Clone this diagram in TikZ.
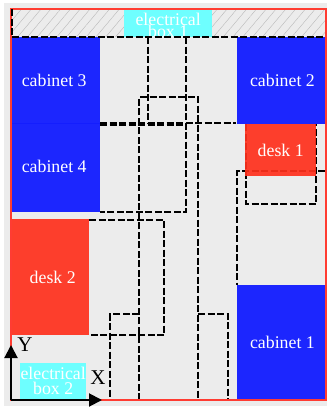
\documentclass[tikz,border=0pt]{standalone}
\usepackage{xcolor}
\usepackage{fontspec}
\setmainfont{Liberation Serif}
\definecolor{roomgray}{RGB}{236,236,236}
\definecolor{hatchgray}{RGB}{185,185,185}
\definecolor{framered}{RGB}{255,60,50}
\definecolor{cabinetblue}{RGB}{20,30,255}
\definecolor{deskred}{RGB}{255,48,28}
\definecolor{boxcyan}{RGB}{110,255,255}
\usetikzlibrary{arrows.meta}
\usetikzlibrary{patterns.meta}
\tikzset{
    x=1pt, y=-1pt,
    common/.style={anchor=north west, inner sep=0pt, text=white, align=center, fill opacity=0.96, text opacity=1, font=\fontsize{17.8}{15}\selectfont},
    cabinet/.style={common, fill=cabinetblue, minimum width=88.5pt},
    desk/.style={common, fill=deskred, fill opacity=0.92},
    elbox/.style={common, fill=boxcyan, fill opacity=1},
    clearance/.style={draw=black, line width=2pt, dash pattern=on 7pt off 2.5pt},
    axis/.style={line width=2pt, -{Triangle[length=13pt,width=13pt]}},
    axislabel/.style={inner sep=0pt, text=black, font=\fontsize{21}{21}\selectfont}
}
\begin{document}
\begin{tikzpicture}
        \useasboundingbox (0,0) rectangle (327,408);
        \fill[roomgray] (4,3) rectangle (327,406);
        \path[pattern={Lines[angle=50,distance=7.5pt,line width=0.4pt]}, pattern color=hatchgray] (12,9) rectangle (325,36);

        \draw[clearance] (148,37) -- (148,123);
        \draw[clearance] (100,125) -- (186,125);
        \draw[clearance] (186,37) -- (186,212) -- (100,212);
        \draw[clearance] (100,123) -- (236,123);
        \draw[clearance] (139,400) -- (139,97) -- (198,97) -- (198,400) -- cycle;
        \draw[clearance] (89,220) -- (164,220) -- (164,335) -- (89,335);
        \draw[clearance] (139,314) -- (110,314) -- (110,400);
        \draw[clearance] (198,314) -- (228,314) -- (228,400);
        \draw[clearance] (246,124) -- (246,204) -- (316,204) -- (316,124);
        \draw[clearance] (325,171) -- (237,171) -- (237,285);

        \node[cabinet, minimum height=87pt] (cabinet3) at (11.5,36.5) {\hspace*{-3.5pt}cabinet 3};
        \node[cabinet, minimum height=89pt] (cabinet4) at (11.5,123) {\hspace*{-3.5pt}\raisebox{2pt}{cabinet 4}};
        \node[cabinet, minimum height=87.5pt] (cabinet2) at (236.5,36.5) {\hspace*{3pt}cabinet 2};
        \node[cabinet, minimum height=115pt] (cabinet1) at (236.5,285) {\hspace*{3pt}cabinet 1};
        \node[desk, minimum width=71pt, minimum height=52pt] (desk1) at (245,124) {\raisebox{-2pt}{desk 1}};
        \node[desk, minimum width=79pt, minimum height=116pt] (desk2) at (10,219) {\hspace*{6pt}desk 2};
        \node[elbox, minimum width=88pt, minimum height=27pt] (elbox1) at (124,9) {\rule{0pt}{16pt}electrical\\[-3pt]box 1};
        \node[elbox, minimum width=66pt, minimum height=36pt] (elbox2) at (20,363) {electrical\\box 2};

        \draw[draw=framered, line width=2pt] (10.5,9) rectangle (325.5,400);
        \draw[clearance] (12,36.5) -- (325,36.5);
        \draw[clearance] (12,9) -- (12,36.5);

        \coordinate (origin) at (11,400);
        \coordinate (xend) at (102,400);
        \coordinate (yend) at (11,345);
        \draw[axis] (origin) -- (xend);
        \draw[axis] (origin) -- (yend);
        \node[axislabel] (ylabel) at (25,345) {Y};
        \node[axislabel] (xlabel) at (98,378) {X};
\end{tikzpicture}
\end{document}
